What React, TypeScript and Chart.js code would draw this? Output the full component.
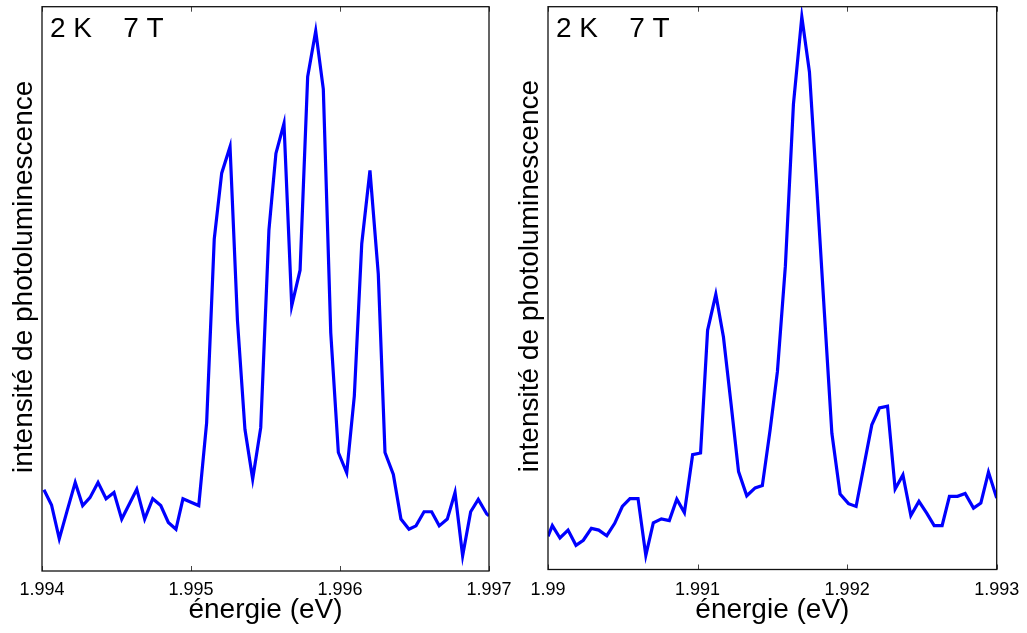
import React, { useEffect, useRef } from "react";
import { Chart, registerables } from "chart.js";

Chart.register(...registerables);

const FONT = '"Liberation Sans", Arial, Helvetica, sans-serif';

const panelLabel = "2 K    7 T";
const xTitle = "énergie (eV)";
const yTitle = "intensité de photoluminescence";

const ticksLeft = [1.994, 1.995, 1.996, 1.997];
const ticksRight = [1.99, 1.991, 1.992, 1.993];

const energyLeft = [
  1.994013, 1.994064, 1.994116, 1.994168, 1.994223, 1.994273, 1.994322, 1.994376,
  1.99443, 1.994483, 1.994535, 1.994587, 1.994636, 1.994689, 1.994743, 1.994797,
  1.994848, 1.994899, 1.994946, 1.995, 1.995052, 1.995105, 1.995156, 1.995206,
  1.995262, 1.995312, 1.995362, 1.995414, 1.995468, 1.995523, 1.99557, 1.995624,
  1.995676, 1.995732, 1.995783, 1.995837, 1.995888, 1.995938, 1.995989, 1.996045,
  1.996096, 1.996146, 1.996201, 1.996257, 1.996302, 1.996358, 1.996409, 1.996463,
  1.99651, 1.996564, 1.996615, 1.996666, 1.99672, 1.996772, 1.996823, 1.996877,
  1.996928, 1.996985, 1.997,
];
const intensityLeft = [
  14.4, 11.7, 5.7, 10.6, 15.7, 11.6, 13.0, 15.7,
  12.8, 13.9, 9.2, 11.9, 14.5, 9.2, 12.8, 11.6,
  8.6, 7.4, 12.8, 12.2, 11.6, 26.3, 58.8, 70.5,
  75.2, 44.3, 25.1, 16.3, 25.4, 60.4, 74.0, 79.3,
  47.0, 53.3, 87.6, 95.7, 85.4, 42.2, 21.0, 17.4,
  31.0, 58.0, 71.0, 52.6, 21.0, 17.1, 9.2, 7.4,
  8.0, 10.5, 10.5, 8.0, 9.2, 13.9, 2.7, 10.5,
  12.7, 10.1, 9.8,
];

const energyRight = [
  1.99, 1.990029, 1.99008, 1.990134, 1.990187, 1.990236, 1.99029, 1.990339,
  1.990393, 1.990446, 1.990497, 1.990548, 1.990602, 1.990654, 1.990704, 1.990758,
  1.990811, 1.990861, 1.990912, 1.990967, 1.99102, 1.991067, 1.991122, 1.991173,
  1.991224, 1.991274, 1.991329, 1.991385, 1.991433, 1.991485, 1.991534, 1.991587,
  1.991641, 1.991697, 1.991748, 1.991798, 1.991848, 1.991898, 1.991953, 1.992009,
  1.99206, 1.992112, 1.992165, 1.992216, 1.99227, 1.992321, 1.992373, 1.992426,
  1.99248, 1.992532, 1.992582, 1.992635, 1.992684, 1.992738, 1.992789, 1.992845,
  1.992894, 1.992945, 1.993,
];
const intensityRight = [
  5.9, 7.8, 5.6, 7.0, 4.3, 5.2, 7.3, 7.0,
  6.0, 8.2, 11.2, 12.6, 12.6, 2.5, 8.3, 9.0,
  8.7, 12.5, 10.1, 20.4, 20.7, 42.5, 48.9, 41.3,
  29.4, 17.4, 13.1, 14.5, 14.9, 24.8, 35.2, 53.9,
  82.7, 98.2, 88.4, 67.4, 45.6, 24.2, 13.4, 11.7,
  11.2, 18.4, 25.7, 28.7, 29.0, 14.3, 16.8, 9.6,
  12.1, 10.0, 7.8, 7.8, 13.0, 13.0, 13.5, 10.9,
  11.8, 17.3, 12.7,
];

type PanelProps = {
  energy: number[];
  intensity: number[];
  ticks: number[];
  left: number;
  width: number;
  padLeft: number;
  padRight: number;
  bottomHeight: number;
  tickPad: number;
};

function Panel(props: PanelProps) {
  const ref = useRef<HTMLCanvasElement | null>(null);
  useEffect(() => {
    const canvas = ref.current;
    if (!canvas) return;
    const { energy, intensity, ticks } = props;
    const framePlugin = {
      id: "frame",
      afterDatasetsDraw(chart: any) {
        const { ctx, chartArea: a } = chart;
        const x = chart.scales.x;
        ctx.save();
        ctx.strokeStyle = "#444";
        ctx.lineWidth = 1;
        x.ticks.forEach((_t: any, i: number) => {
          const px = Math.round(x.getPixelForTick(i)) + 0.5;
          ctx.beginPath();
          ctx.moveTo(px, a.bottom);
          ctx.lineTo(px, a.bottom - 5);
          ctx.moveTo(px, a.top);
          ctx.lineTo(px, a.top + 5);
          ctx.stroke();
        });
        ctx.strokeStyle = "#111";
        ctx.lineWidth = 1.3;
        ctx.strokeRect(a.left, a.top, a.right - a.left, a.bottom - a.top);
        ctx.fillStyle = "#000";
        ctx.font = `28px ${FONT}`;
        ctx.textBaseline = "alphabetic";
        ctx.textAlign = "left";
        ctx.fillText(panelLabel, a.left + 8, a.top + 30);
        ctx.translate(a.left - 10.3, (a.top + a.bottom) / 2 - 12);
        ctx.rotate(-Math.PI / 2);
        ctx.textAlign = "center";
        ctx.fillText(yTitle, 0, 0);
        ctx.restore();
      },
    };
    const chart = new Chart(canvas, {
      type: "line",
      data: {
        datasets: [
          {
            data: energy.map((e, i) => ({ x: e, y: intensity[i] })),
            borderColor: "#0000ff",
            borderWidth: 3.2,
            pointRadius: 0,
            tension: 0,
            fill: false,
          },
        ],
      },
      options: {
        responsive: false,
        animation: false,
        devicePixelRatio: 1,
        layout: {
          padding: { left: props.padLeft, right: props.padRight, top: 6.7, bottom: 0 },
        },
        plugins: { legend: { display: false }, tooltip: { enabled: false } },
        scales: {
          x: {
            type: "linear",
            min: ticks[0],
            max: ticks[ticks.length - 1],
            afterBuildTicks: (s: any) => {
              s.ticks = ticks.map((v) => ({ value: v }));
            },
            afterFit: (s: any) => {
              s.height = props.bottomHeight;
            },
            grid: { display: false, drawTicks: false },
            border: { display: false },
            ticks: {
              padding: props.tickPad,
              color: "#000",
              font: { size: 18, family: FONT },
              maxRotation: 0,
              autoSkip: false,
              callback: (v: any) => String(Number(Number(v).toFixed(3))),
            },
            title: {
              display: true,
              text: xTitle,
              color: "#000",
              font: { size: 28, family: FONT },
              padding: { top: 0, bottom: 6 },
            },
          },
          y: {
            display: false,
            min: 0,
            max: 100,
          },
        },
      },
      plugins: [framePlugin],
    } as any);
    return () => chart.destroy();
  }, []);
  return (
    <canvas
      ref={ref}
      width={props.width}
      height={633}
      style={{
        display: "block",
        position: "absolute",
        left: props.left,
        top: 0,
        width: props.width,
        height: 633,
      }}
    />
  );
}

export default function App() {
  return (
    <div
      style={{
        position: "absolute",
        left: 0,
        top: 0,
        width: 1027,
        height: 633,
        background: "#fff",
        overflow: "hidden",
      }}
    >
      <Panel
        energy={energyLeft}
        intensity={intensityLeft}
        ticks={ticksLeft}
        left={0}
        width={540}
        padLeft={42}
        padRight={51}
        bottomHeight={62}
        tickPad={8.5}
      />
      <Panel
        energy={energyRight}
        intensity={intensityRight}
        ticks={ticksRight}
        left={500}
        width={540}
        padLeft={48}
        padRight={43.3}
        bottomHeight={63.5}
        tickPad={10}
      />
    </div>
  );
}
